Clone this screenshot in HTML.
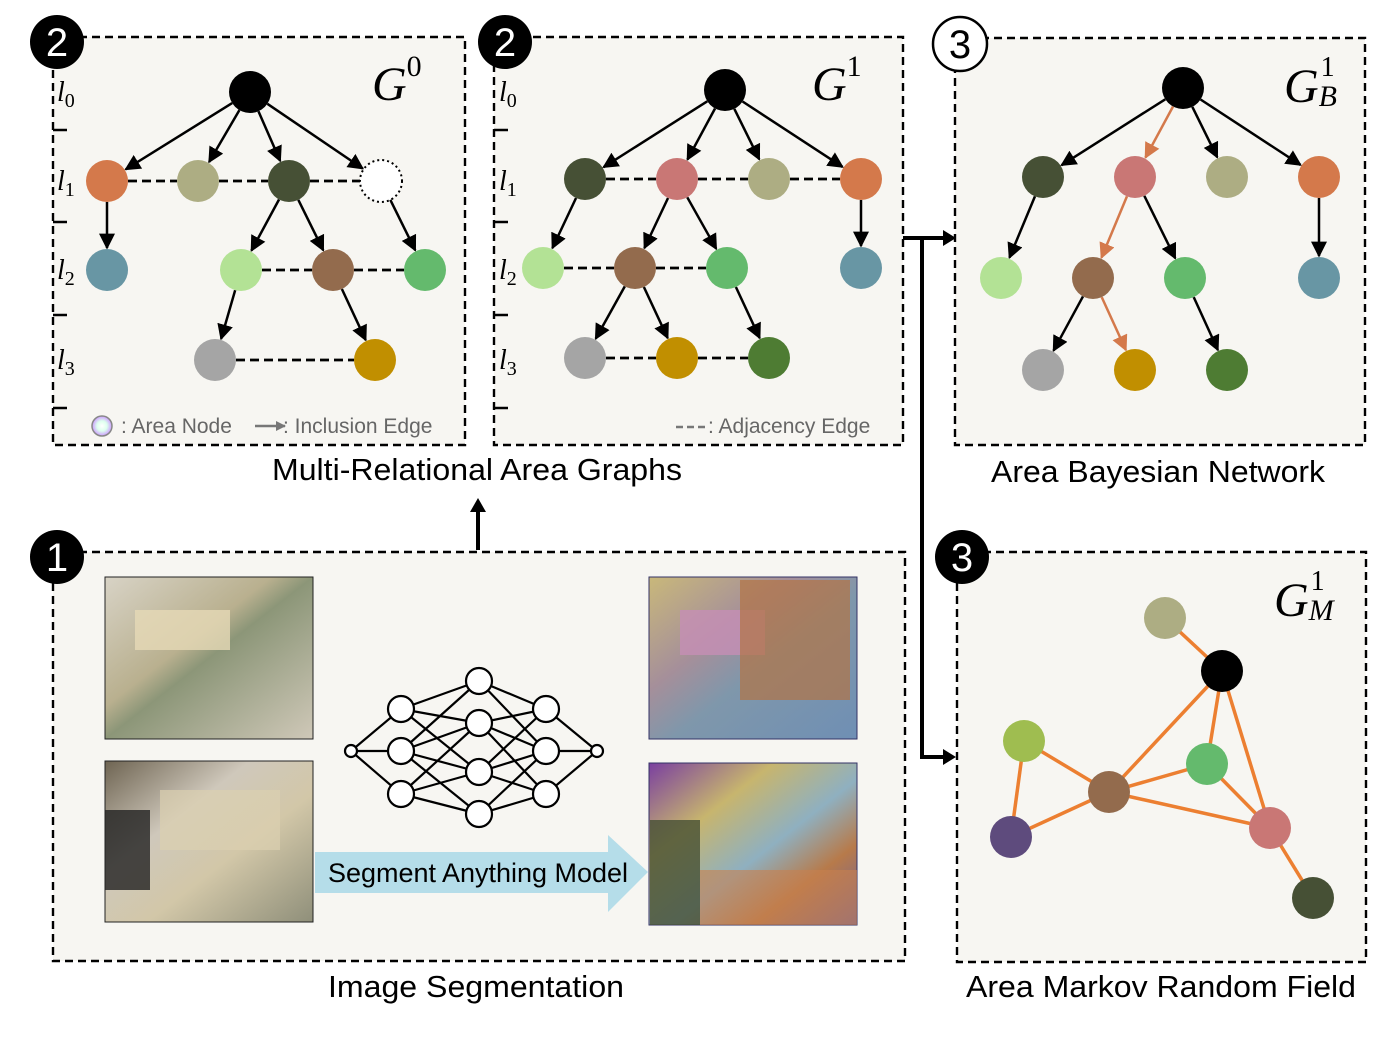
<!DOCTYPE html>
<html><head><meta charset="utf-8"><style>
html,body{margin:0;padding:0;background:#fff;}
svg{display:block;font-family:"Liberation Sans",sans-serif;}
</style></head><body>
<svg id="s" width="1400" height="1056" viewBox="0 0 1400 1056" xmlns="http://www.w3.org/2000/svg">
<defs>
<marker id="ab" viewBox="0 0 10 10" refX="9" refY="5" markerWidth="6.5" markerHeight="6.5" markerUnits="userSpaceOnUse" orient="auto"><path d="M0,0L10,5L0,10z" fill="#000"/></marker>
<marker id="ab2" viewBox="0 0 10 10" refX="9" refY="5" markerWidth="16" markerHeight="16" markerUnits="userSpaceOnUse" orient="auto"><path d="M0,0L10,5L0,10z" fill="#000"/></marker>
<marker id="ao" viewBox="0 0 10 10" refX="9" refY="5" markerWidth="16" markerHeight="16" markerUnits="userSpaceOnUse" orient="auto"><path d="M0,0L10,5L0,10z" fill="#d4794b"/></marker>
<marker id="ag" viewBox="0 0 10 10" refX="9" refY="5" markerWidth="4" markerHeight="4" orient="auto"><path d="M0,0L10,5L0,10z" fill="#777"/></marker>
<linearGradient id="p1" x1="0" y1="0" x2="1" y2="1"><stop offset="0" stop-color="#d8d3c6"/><stop offset=".4" stop-color="#b9b08f"/><stop offset=".5" stop-color="#8c9678"/><stop offset="1" stop-color="#cfc8b8"/></linearGradient>
<linearGradient id="p2" x1="0" y1="0" x2="1" y2="1"><stop offset="0" stop-color="#6e6452"/><stop offset=".35" stop-color="#cfc8bb"/><stop offset=".6" stop-color="#d2c7a8"/><stop offset="1" stop-color="#8f8f7a"/></linearGradient>
<linearGradient id="p3" x1="0" y1="0" x2="1" y2="1"><stop offset="0" stop-color="#c9b87a"/><stop offset=".35" stop-color="#a58f9a"/><stop offset=".55" stop-color="#7f97ab"/><stop offset="1" stop-color="#6f8fb4"/></linearGradient>
<linearGradient id="p4" x1="0" y1="0" x2="1" y2="1"><stop offset="0" stop-color="#7a3fa0"/><stop offset=".3" stop-color="#c7b56e"/><stop offset=".55" stop-color="#8fb0c0"/><stop offset=".75" stop-color="#b77a4a"/><stop offset="1" stop-color="#6a60a0"/></linearGradient>
<radialGradient id="rb"><stop offset="0" stop-color="#fff"/><stop offset=".5" stop-color="#dfe"/><stop offset="1" stop-color="#c9f"/></radialGradient>
</defs>
<g fill="#f7f6f2" stroke="#000" stroke-width="2.4" stroke-dasharray="8,5">
<rect x="53" y="37" width="412" height="408"/>
<rect x="494" y="37" width="409" height="408"/>
<rect x="955" y="38" width="410" height="407"/>
<rect x="53" y="552" width="852" height="409"/>
<rect x="957" y="552" width="409" height="410"/>
</g>
<g id="edges"></g>
<g id="nodes"></g>
<g stroke="#000" stroke-width="2.5" fill="none">
<path d="M67,130H53M67,222H53M67,315H53M67,408H53"/>
<path d="M508,130H494M508,222H494M508,315H494M508,408H494"/>
</g>
<g font-family="Liberation Serif,serif" font-style="italic" font-size="28">
<text x="57" y="101">l<tspan font-size="20" dy="6" font-style="normal">0</tspan></text>
<text x="57" y="190">l<tspan font-size="20" dy="6" font-style="normal">1</tspan></text>
<text x="57" y="279">l<tspan font-size="20" dy="6" font-style="normal">2</tspan></text>
<text x="57" y="369">l<tspan font-size="20" dy="6" font-style="normal">3</tspan></text>
<text x="499" y="101">l<tspan font-size="20" dy="6" font-style="normal">0</tspan></text>
<text x="499" y="190">l<tspan font-size="20" dy="6" font-style="normal">1</tspan></text>
<text x="499" y="279">l<tspan font-size="20" dy="6" font-style="normal">2</tspan></text>
<text x="499" y="369">l<tspan font-size="20" dy="6" font-style="normal">3</tspan></text>
<text x="372" y="100" font-size="48">G<tspan font-size="30" dy="-24" font-style="normal">0</tspan></text>
<text x="812" y="100" font-size="48">G<tspan font-size="30" dy="-24" font-style="normal">1</tspan></text>
<text x="1284" y="102" font-size="48">G<tspan font-size="28" dx="2" dy="-26" font-style="normal">1</tspan><tspan font-size="30" dx="-16" dy="30">B</tspan></text>
<text x="1274" y="616" font-size="48">G<tspan font-size="28" dx="2" dy="-26" font-style="normal">1</tspan><tspan font-size="30" dx="-16" dy="30">M</tspan></text>
</g>
<g font-size="21" fill="#666">
<circle cx="102" cy="426" r="10" fill="url(#rb)" stroke="#888" stroke-width="1.5"/>
<text x="121" y="433">: Area Node</text>
<line x1="255" y1="426" x2="285" y2="426" stroke="#777" stroke-width="2.5" marker-end="url(#ag)"/>
<text x="283" y="433">: Inclusion Edge</text>
<line x1="676" y1="427" x2="708" y2="427" stroke="#777" stroke-width="2.5" stroke-dasharray="7,4"/>
<text x="708" y="433">: Adjacency Edge</text>
</g>
<g font-size="40" text-anchor="middle">
<circle cx="57" cy="42" r="27" fill="#000"/><text x="57" y="56" fill="#fff">2</text>
<circle cx="505" cy="42" r="27" fill="#000"/><text x="505" y="56" fill="#fff">2</text>
<circle cx="960" cy="44" r="27" fill="#fff" stroke="#000" stroke-width="2.5"/><text x="960" y="58" fill="#000">3</text>
<circle cx="57" cy="557" r="27" fill="#000"/><text x="57" y="571" fill="#fff">1</text>
<circle cx="962" cy="557" r="27" fill="#000"/><text x="962" y="571" fill="#fff">3</text>
</g>
<g font-size="31" text-anchor="middle" fill="#000" textLength="">
<text x="477" y="480" textLength="410" lengthAdjust="spacingAndGlyphs">Multi-Relational Area Graphs</text>
<text x="1158" y="482" textLength="334" lengthAdjust="spacingAndGlyphs">Area Bayesian Network</text>
<text x="476" y="997" textLength="296" lengthAdjust="spacingAndGlyphs">Image Segmentation</text>
<text x="1161" y="997" textLength="390" lengthAdjust="spacingAndGlyphs">Area Markov Random Field</text>
</g>
<g stroke="#000" stroke-width="4" fill="none">
<path d="M903,238H945M922,238V757H945"/>
<path d="M478,550V510"/>
</g>
<path d="M956,238L943,230V246z M956,757L943,749V765z M478,498L470,512H486z" fill="#000"/>
<rect x="105" y="577" width="208" height="162" fill="url(#p1)" stroke="#222"/>
<rect x="105" y="761" width="208" height="161" fill="url(#p2)" stroke="#222"/>
<rect x="649" y="577" width="208" height="162" fill="url(#p3)" stroke="#336"/>
<rect x="649" y="763" width="208" height="162" fill="url(#p4)" stroke="#336"/>
<rect x="650" y="820" width="50" height="105" fill="#465035" opacity=".8"/>
<rect x="700" y="870" width="157" height="55" fill="#c8804f" opacity=".6"/>
<rect x="160" y="790" width="120" height="60" fill="#dcd0b0" opacity=".7"/>
<rect x="105" y="810" width="45" height="80" fill="#222" opacity=".8"/>
<rect x="135" y="610" width="95" height="40" fill="#e6d9b6" opacity=".8"/>
<rect x="680" y="610" width="85" height="45" fill="#c58fb5" opacity=".8"/>
<rect x="740" y="580" width="110" height="120" fill="#b27444" opacity=".7"/>
<path d="M315,852H608V835L648,872L608,912V893H315z" fill="#b5dde9"/>
<text x="478" y="882" font-size="27" text-anchor="middle" textLength="300" lengthAdjust="spacingAndGlyphs">Segment Anything Model</text>
<g id="nn" stroke="#000" stroke-width="2.2" fill="#fff"></g>
</svg>
<script>
var NS="http://www.w3.org/2000/svg";
var E=document.getElementById("edges"),N=document.getElementById("nodes"),NN=document.getElementById("nn");
function el(p,t,a){var e=document.createElementNS(NS,t);for(var k in a)e.setAttribute(k,a[k]);p.appendChild(e);return e;}
var C={o:"#d4794b",k:"#adad83",dg:"#465035",b:"#6896a4",lg:"#b3e295",br:"#936b4d",g:"#64ba6d",gr:"#a5a5a5",go:"#c18f00",pk:"#c97775",d2:"#4e7c33",li:"#9fbd50",pu:"#5e4b7d",bk:"#000"};
var R=21;
function arrow(a,b,col,mk){var dx=b[0]-a[0],dy=b[1]-a[1],L=Math.hypot(dx,dy),ux=dx/L,uy=dy/L;
el(E,"line",{x1:a[0]+ux*R,y1:a[1]+uy*R,x2:b[0]-ux*(R+1),y2:b[1]-uy*(R+1),stroke:col,"stroke-width":2.5,"marker-end":"url(#"+(mk=="ab"?"ab2":mk)+")"});}
function dash(a,b){el(E,"line",{x1:a[0]+R,y1:a[1],x2:b[0]-R,y2:b[1],stroke:"#000","stroke-width":2.8,"stroke-dasharray":"9,5"});}
function node(p,c){el(N,"circle",{cx:p[0],cy:p[1],r:R,fill:C[c]});}
var g0={r:[250,92],o:[107,181],k:[198,181],dg:[289,181],w:[381,181],b:[107,270],lg:[241,270],br:[333,270],g:[425,270],gr:[215,360],go:[375,360]};
["o","k","dg","w"].forEach(function(k){arrow(g0.r,g0[k],"#000","ab")});
arrow(g0.o,g0.b,"#000","ab");arrow(g0.dg,g0.lg,"#000","ab");arrow(g0.dg,g0.br,"#000","ab");arrow(g0.w,g0.g,"#000","ab");arrow(g0.lg,g0.gr,"#000","ab");arrow(g0.br,g0.go,"#000","ab");
dash(g0.o,g0.k);dash(g0.k,g0.dg);dash(g0.dg,g0.w);dash(g0.lg,g0.br);dash(g0.br,g0.g);dash(g0.gr,g0.go);
node(g0.r,"bk");["o","k","dg","b","lg","br","g","gr","go"].forEach(function(k){node(g0[k],k)});
el(N,"circle",{cx:381,cy:181,r:R,fill:"#fff",stroke:"#000","stroke-width":2,"stroke-dasharray":"2,3"});
function tree(ox,oy,ys,bn){var r=[725+ox,90+oy-(bn?2:0)];
var L1={dg:[585+ox,ys[0]],pk:[677+ox,ys[0]],k:[769+ox,ys[0]],o:[861+ox,ys[0]]};
var L2={lg:[543+ox,ys[1]],br:[635+ox,ys[1]],g:[727+ox,ys[1]],b:[861+ox,ys[1]]};
var L3={gr:[585+ox,ys[2]],go:[677+ox,ys[2]],d2:[769+ox,ys[2]]};
if(bn){L2.lg=[1001,ys[1]];L2.br=[1093,ys[1]];L2.g=[1185,ys[1]];L3.gr=[1043,ys[2]];L3.go=[1135,ys[2]];L3.d2=[1227,ys[2]];}
for(var k in L1)arrow(r,L1[k],(bn&&k=="pk")?"#d4794b":"#000",(bn&&k=="pk")?"ao":"ab");
arrow(L1.dg,L2.lg,"#000","ab");arrow(L1.pk,L2.br,bn?"#d4794b":"#000",bn?"ao":"ab");arrow(L1.pk,L2.g,"#000","ab");arrow(L1.o,L2.b,"#000","ab");
arrow(L2.br,L3.gr,"#000","ab");arrow(L2.br,L3.go,bn?"#d4794b":"#000",bn?"ao":"ab");arrow(L2.g,L3.d2,"#000","ab");
if(!bn){dash(L1.dg,L1.pk);dash(L1.pk,L1.k);dash(L1.k,L1.o);dash(L2.lg,L2.br);dash(L2.br,L2.g);dash(L3.gr,L3.go);dash(L3.go,L3.d2);}
node(r,"bk");[L1,L2,L3].forEach(function(L){for(var k in L)node(L[k],k)});}
tree(0,0,[179,268,358],false);
tree(458,0,[177,278,370],true);
var m={k:[1165,618],bk:[1222,671],li:[1024,741],g:[1207,764],br:[1109,792],pk:[1270,828],pu:[1011,837],dg:[1313,898]};
[["k","bk"],["bk","br"],["bk","g"],["bk","pk"],["li","br"],["li","pu"],["pu","br"],["br","g"],["br","pk"],["g","pk"],["pk","dg"]].forEach(function(e){
el(E,"line",{x1:m[e[0]][0],y1:m[e[0]][1],x2:m[e[1]][0],y2:m[e[1]][1],stroke:"#ec7f31","stroke-width":3.5});});
for(var k in m)node(m[k],k);
var Ls=[[[351,751]],[[401,709],[401,751],[401,794]],[[479,681],[479,723],[479,772],[479,814]],[[546,709],[546,751],[546,794]],[[597,751]]];
for(var i=0;i<4;i++)Ls[i].forEach(function(a){Ls[i+1].forEach(function(b){
if(i==1&&((a[1]==709&&b[1]>772)||(a[1]==794&&b[1]<723)))return;
if(i==2&&((b[1]==709&&a[1]>772)||(b[1]==794&&a[1]<723)))return;
el(NN,"line",{x1:a[0],y1:a[1],x2:b[0],y2:b[1]});});});
Ls.forEach(function(L,i){L.forEach(function(p){el(NN,"circle",{cx:p[0],cy:p[1],r:(i==0||i==4)?6:13});});});
</script>
</body></html>
